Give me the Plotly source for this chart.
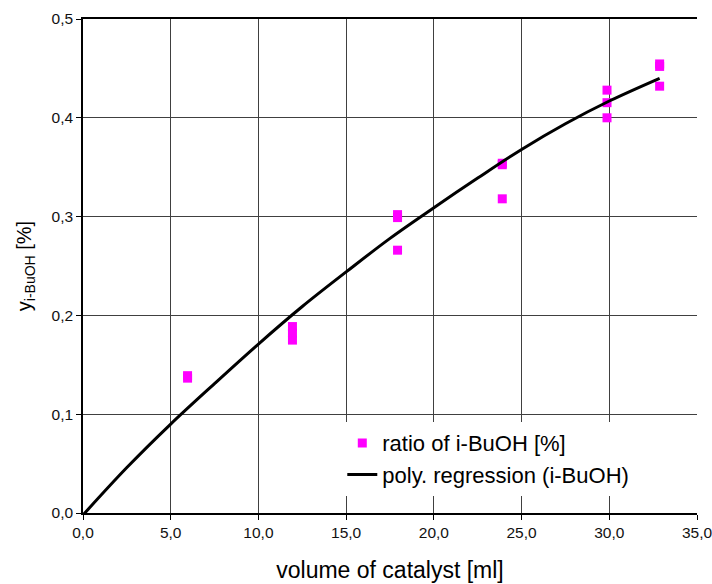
import plotly.graph_objects as go

# measured data: volume of catalyst [ml] vs ratio of i-BuOH [%]
x_meas = [5.96, 5.96, 11.94, 11.94, 11.94, 17.93, 17.93, 17.93,
          23.9, 23.9, 23.9, 29.87, 29.87, 29.87, 32.87, 32.87, 32.87]
y_meas = [0.139, 0.1365, 0.1887, 0.182, 0.175, 0.302, 0.299, 0.266,
          0.354, 0.3525, 0.318, 0.428, 0.4153, 0.400, 0.4545, 0.452, 0.432]

# regression curve
x_fit = [0.0, 2.5, 5.0, 7.5, 10.0, 12.5, 15.0, 17.5, 20.0, 22.5, 25.0, 27.5, 30.0, 32.87]
y_fit = [-0.002, 0.046, 0.090, 0.131, 0.171, 0.209, 0.244, 0.278, 0.309, 0.339,
         0.368, 0.394, 0.417, 0.440]

x_ticks = [0, 5, 10, 15, 20, 25, 30, 35]
y_ticks = [0.0, 0.1, 0.2, 0.3, 0.4, 0.5]

FONT = "Arial, Liberation Sans, sans-serif"

fig = go.Figure()
fig.add_trace(go.Scatter(
    x=x_meas, y=y_meas, mode="markers", name="ratio of i-BuOH [%]",
    marker=dict(symbol="square", size=9, color="#FF00FF", line=dict(width=0)),
    cliponaxis=False,
))
fig.add_trace(go.Scatter(
    x=x_fit, y=y_fit, mode="lines", name="poly. regression (i-BuOH)",
    line=dict(color="black", width=3, shape="spline", smoothing=1.0),
))

fig.update_layout(
    width=712, height=584,
    margin=dict(l=83, r=15, t=19, b=71),
    paper_bgcolor="white", plot_bgcolor="white",
    separators=",.",
    font=dict(family=FONT, color="black"),
    showlegend=True,
    legend=dict(
        x=0.4223, y=0.184, xanchor="left", yanchor="top",
        bgcolor="white", borderwidth=0,
        font=dict(family=FONT, size=22, color="black"),
        tracegroupgap=0,
    ),
    xaxis=dict(
        range=[0, 35], tickvals=x_ticks, tickformat=".1f",
        showgrid=True, gridcolor="#404040", gridwidth=1,
        showline=True, linecolor="black", linewidth=1.5, mirror=True,
        ticks="outside", ticklen=5, tickcolor="black",
        tickfont=dict(family=FONT, size=15.5, color="#111"),
        ticklabeloverflow="allow",
        zeroline=False, automargin=False,
        title=dict(text="volume of catalyst [ml]",
                   font=dict(family=FONT, size=23, color="black"), standoff=22),
    ),
    yaxis=dict(
        range=[0, 0.5], tickvals=y_ticks, tickformat=".1f",
        showgrid=True, gridcolor="#404040", gridwidth=1,
        showline=True, linecolor="black", linewidth=1.5,
        ticks="outside", ticklen=5, tickcolor="black",
        tickfont=dict(family=FONT, size=15.5, color="#111"),
        ticklabeloverflow="allow",
        zeroline=False, automargin=False,
        title=dict(text="y<sub>i-BuOH</sub> [%]",
                   font=dict(family=FONT, size=20, color="black"), standoff=15),
    ),
)

fig.write_html("out.html")
